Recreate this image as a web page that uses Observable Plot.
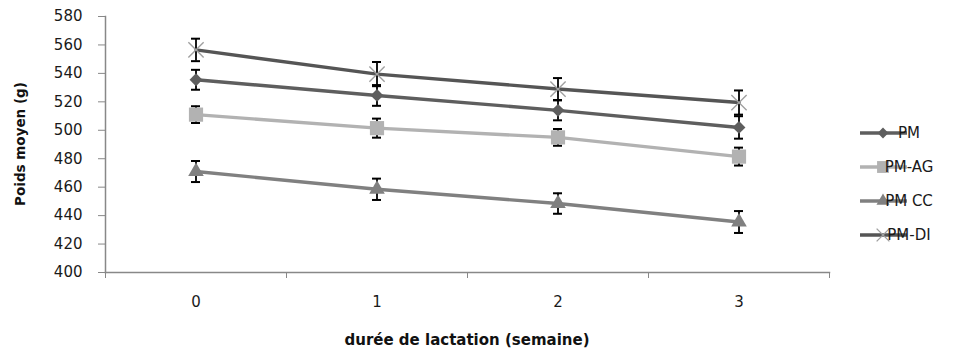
<!DOCTYPE html>
<html>
<head>
<meta charset="utf-8">
<script src="https://cdn.jsdelivr.net/npm/d3@7"></script>
<script src="https://cdn.jsdelivr.net/npm/@observablehq/plot@0.6"></script>
<style>
  body { margin: 0; background: #fff; }
  #chart { position: relative; width: 974px; height: 354px; }
</style>
</head>
<body>
<div id="chart"></div>
<script>
// ---- data ----
const weeks = [0, 1, 2, 3];
const seriesNames = ["PM", "PM-AG", "PM CC", "PM-DI"];
const PM      = [535.5, 524.5, 514, 502];
const PM_AG   = [511, 501.5, 495, 481.5];
const PM_CC   = [471, 458.5, 448.5, 435.5];
const PM_DI   = [556.5, 539.5, 529, 519.5];
const PM_err    = [7, 7.3, 7, 7.9];
const PM_AG_err = [5.9, 6.7, 5.9, 6.3];
const PM_CC_err = [7.4, 7.5, 7.2, 7.7];
const PM_DI_err = [7.9, 8.5, 7.7, 8.5];
const yTicks = [400, 420, 440, 460, 480, 500, 520, 540, 560, 580];
const xBoundaries = [-0.5, 0.5, 1.5, 2.5, 3.5];
const xTitle = "durée de lactation (semaine)";
const yTitle = "Poids moyen (g)";

const styles = {
  "PM":    {color: "#5e5e5e", symbol: "diamond2", fill: "#5e5e5e", r: 5.8},
  "PM-AG": {color: "#b2b2b2", symbol: "square",   fill: "#b2b2b2", r: 8},
  "PM CC": {color: "#808080", symbol: "triangle", fill: "#808080", r: 5.8},
  "PM-DI": {color: "#555555", symbol: "times",    fill: "none",    r: 7}
};

const valuesBySeries = {"PM": PM, "PM-AG": PM_AG, "PM CC": PM_CC, "PM-DI": PM_DI};
const errBySeries = {"PM": PM_err, "PM-AG": PM_AG_err, "PM CC": PM_CC_err, "PM-DI": PM_DI_err};
const rows = seriesNames.flatMap(s => weeks.map((w, i) => ({
  series: s, week: w, value: valuesBySeries[s][i],
  lo: valuesBySeries[s][i] - errBySeries[s][i],
  hi: valuesBySeries[s][i] + errBySeries[s][i]
})));

const capHalf = 0.025; // cap half-width in week units
const font = "DejaVu Sans, sans-serif";

const marks = [];
for (const s of seriesNames) {
  marks.push(Plot.line(rows.filter(d => d.series === s), {
    x: "week", y: "value", stroke: styles[s].color, strokeWidth: 3.4
  }));
}
marks.push(Plot.ruleX(rows, {x: "week", y1: "lo", y2: "hi", stroke: "#000", strokeWidth: 1.8}));
marks.push(Plot.ruleY(rows, {y: "hi", x1: d => d.week - capHalf, x2: d => d.week + capHalf, stroke: "#000", strokeWidth: 2}));
marks.push(Plot.ruleY(rows, {y: "lo", x1: d => d.week - capHalf, x2: d => d.week + capHalf, stroke: "#000", strokeWidth: 2}));
for (const s of seriesNames) {
  const st = styles[s];
  if (st.symbol === "times") {
    marks.push(Plot.dot(rows.filter(d => d.series === s), {
      x: "week", y: "value", symbol: "times", r: st.r, stroke: "#a0a0a0", strokeWidth: 1.4, fill: "none"
    }));
  } else {
    marks.push(Plot.dot(rows.filter(d => d.series === s), {
      x: "week", y: "value", symbol: st.symbol, r: st.r, fill: st.fill, stroke: "none"
    }));
  }
}

const plot = Plot.plot({
  width: 974,
  height: 354,
  marginLeft: 105,
  marginRight: 145,
  marginTop: 16,
  marginBottom: 82,
  style: {fontFamily: font, fontSize: "15px", color: "#1a1a1a", background: "#fff"},
  x: {domain: [-0.5, 3.5], axis: null},
  y: {domain: [400, 580], axis: null},
  marks: [
    Plot.axisY({ticks: yTicks, tickSize: 7, tickPadding: 16, stroke: "#888", label: null, fontSize: 15, tickFormat: d => String(d)}),
    Plot.axisX({ticks: xBoundaries, tickSize: 6, stroke: "#888", label: null, tickFormat: () => ""}),
    Plot.axisX({ticks: weeks, tickSize: 0, tickPadding: 24, label: null, fontSize: 15, tickFormat: d => String(d)}),
    Plot.frame({anchor: "left", stroke: "#888", strokeWidth: 1.5}),
    Plot.frame({anchor: "bottom", stroke: "#888", strokeWidth: 1.5}),
    ...marks
  ]
});

document.getElementById("chart").appendChild(plot);

const svg = d3.select(plot);
// ---- axis titles ----
svg.append("text").attr("x", 467).attr("y", 340).attr("dy", "0.35em")
  .attr("text-anchor", "middle").attr("font-family", font).attr("font-weight", "bold")
  .attr("font-size", 15).attr("fill", "#111").text(xTitle);
svg.append("text").attr("transform", "translate(20,144) rotate(-90)").attr("dy", "0.35em")
  .attr("text-anchor", "middle").attr("font-family", font).attr("font-weight", "bold")
  .attr("font-size", 13.5).attr("fill", "#111").text(yTitle);

// ---- legend ----
const legendY = [133, 167, 201, 235];
const symMap = {diamond2: d3.symbolDiamond2, square: d3.symbolSquare, triangle: d3.symbolTriangle, times: d3.symbolTimes};
const lg = svg.append("g").attr("font-family", font).attr("font-size", 15);
seriesNames.forEach((s, i) => {
  const st = styles[s];
  const y = legendY[i];
  lg.append("line").attr("x1", 860).attr("x2", 907).attr("y1", y).attr("y2", y)
    .attr("stroke", st.color).attr("stroke-width", 3.4);
  const size = Math.PI * st.r * st.r * 0.7;
  const p = lg.append("path").attr("transform", `translate(883,${y})`)
    .attr("d", d3.symbol(symMap[st.symbol], size)());
  if (st.symbol === "times") p.attr("fill", "none").attr("stroke", "#a0a0a0").attr("stroke-width", 1.4);
  else p.attr("fill", st.fill);
  lg.append("text").attr("x", 909).attr("y", y).attr("dy", "0.35em").attr("fill", "#1a1a1a").text(s);
});
</script>
</body>
</html>
